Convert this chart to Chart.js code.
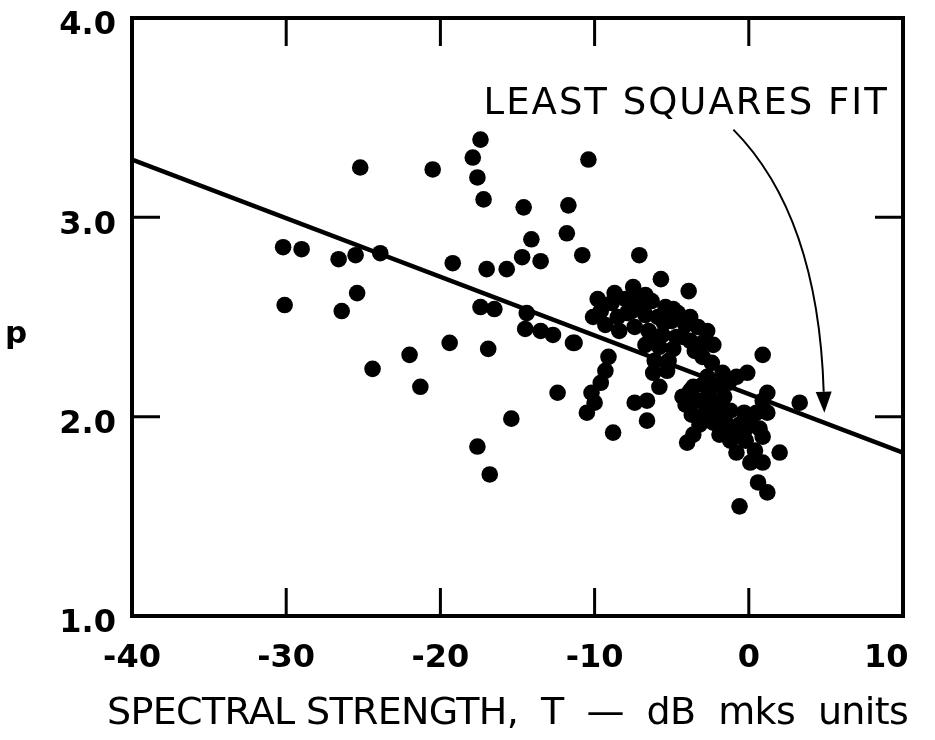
<!DOCTYPE html>
<html><head><meta charset="utf-8">
<script src="https://cdn.jsdelivr.net/npm/chart.js@4.4.1/dist/chart.umd.min.js"></script>
<style>html,body{margin:0;padding:0;background:#fff;}#c{display:block;}</style>
</head><body>
<canvas id="c" width="935" height="740"></canvas>
<script>
// Spectral strength T (dB mks units) of each observation
const spectralT = [
  -30.2,-29.0,-30.1,-26.6,-25.5,-23.9,-25.4,-26.4,-25.2,-20.5,
  -24.4,-22.0,-21.3,-19.4,-19.2,-16.9,-17.6,-16.8,-15.4,-17.4,
  -17.9,-17.6,-17.2,-14.6,-11.7,-10.4,-11.8,-10.8,-14.1,-14.7,
  -13.5,-15.7,-17.0,-17.4,-16.5,-14.4,-14.5,-13.5,-12.7,-11.4,
  -12.4,-9.8,-7.1,-5.7,-3.9,-8.7,-7.5,-6.7,-4.9,-3.8,
  -2.7,-2.3,0.9,-10.1,-11.3,-9.1,-9.3,-9.6,-10.2,-10.0,
  -10.5,-8.8,-7.4,-6.6,-5.8,-6.6,-4.3,-3.6,-2.7,-1.7,
  -0.8,-0.1,1.2,3.3,-4.0,-3.6,-1.7,-1.2,-0.8,0.1,
  0.9,0.9,2.0,0.6,1.2,-0.6,-6.2,-5.3,
  -9.6,-8.9,-8.0,-7.2,-6.3,-5.4,-4.6,-9.3,-8.5,-7.6,
  -6.7,-5.9,-5.0,-4.1,-3.3,-8.4,-7.4,-6.5,-5.6,-4.7,
  -3.8,-3.0,-6.7,-5.8,-4.9,-3.0,-2.4,-6.1,-5.2,
  -7.9,-6.9,-5.5,-4.3,-6.3,-3.5,
  -3.8,-3.0,-2.1,-1.3,-4.1,-3.3,-2.5,-1.6,0.9,-3.7,
  -2.8,-2.0,-1.2,-0.3,0.5,1.2,-3.2,-2.3,-1.5,-0.6,
  0.2,-1.0,-0.2,0.4,
  -2.6,-1.8,-2.4,-0.2,-1.9,0.7
];
// p value of each observation
const pValues = [
  2.85,2.84,2.56,2.79,2.81,2.82,2.62,2.53,3.25,3.24,
  2.24,2.31,2.15,2.37,2.77,2.34,1.85,1.71,1.99,3.39,
  3.30,3.20,3.09,3.05,3.06,3.29,2.92,2.81,2.89,2.80,
  2.78,2.74,2.74,2.55,2.54,2.52,2.44,2.43,2.41,2.37,
  2.12,2.59,2.81,2.69,2.63,2.62,2.65,2.61,2.54,2.50,
  2.43,2.36,2.31,2.50,2.37,2.30,2.23,2.17,2.12,2.07,
  2.02,1.92,2.07,2.08,2.15,1.98,2.10,2.15,2.20,2.22,
  2.20,2.22,2.12,2.07,1.87,1.91,1.95,1.88,1.82,1.77,
  1.77,1.90,1.82,1.67,1.62,1.55,2.22,2.23,
  2.53,2.57,2.59,2.60,2.58,2.55,2.52,2.46,2.50,2.53,
  2.51,2.50,2.48,2.46,2.45,2.43,2.45,2.43,2.41,2.40,
  2.38,2.37,2.36,2.35,2.34,2.30,2.27,2.28,2.28,
  2.52,2.55,2.47,2.40,2.40,2.33,
  2.13,2.16,2.16,2.17,2.06,2.08,2.09,2.10,2.08,2.01,
  2.02,2.03,2.03,2.02,2.02,2.02,1.96,1.97,1.97,1.96,
  1.96,1.91,1.88,1.83,
  2.13,2.06,2.05,1.94,1.91,1.94
];
// Least squares fit line end points
const fitT = [-40, 10];
const fitP = [3.29, 1.82];
// Axis ticks
const xTickValues = [-40, -30, -20, -10, 0, 10];
const xTickLabels = ['-40', '-30', '-20', '-10', '0', '10\u00a0\u00a0\u00a0'];
const yTickValues = [1.0, 2.0, 3.0, 4.0];
const yTickLabels = ['1.0', '2.0', '3.0', '4.0'];
const xTitle = 'SPECTRAL STRENGTH,  T  \u2014  dB  mks  units';
const yTitle = 'p';
// Annotation
const fitLabel = 'LEAST SQUARES FIT';
const fitLabelAt = [-17.2, 3.52];
const arrowT = [-1.0, 4.5, 4.9];
const arrowP = [3.44, 3.01, 2.02];

const FONT = 'DejaVu Sans';
Chart.defaults.font.family = FONT;
Chart.defaults.color = '#000';

const framePlugin = {
  id: 'frame',
  afterDatasetsDraw(chart) {
    const {ctx, chartArea: a, scales: {x, y}} = chart;
    ctx.save();
    ctx.strokeStyle = '#000';
    ctx.fillStyle = '#000';
    ctx.lineWidth = 4;
    ctx.strokeRect(a.left, a.top, a.right - a.left, a.bottom - a.top);
    const tl = 28;
    ctx.lineWidth = 3;
    ctx.beginPath();
    xTickValues.slice(1, -1).forEach(v => {
      const px = x.getPixelForValue(v);
      ctx.moveTo(px, a.bottom); ctx.lineTo(px, a.bottom - tl);
      ctx.moveTo(px, a.top); ctx.lineTo(px, a.top + tl);
    });
    yTickValues.slice(1, -1).forEach(v => {
      const py = y.getPixelForValue(v);
      ctx.moveTo(a.left, py); ctx.lineTo(a.left + tl, py);
      ctx.moveTo(a.right, py); ctx.lineTo(a.right - tl, py);
    });
    ctx.stroke();
    // curved arrow
    const p0 = [x.getPixelForValue(arrowT[0]), y.getPixelForValue(arrowP[0])];
    const p1 = [x.getPixelForValue(arrowT[1]), y.getPixelForValue(arrowP[1])];
    const p2 = [x.getPixelForValue(arrowT[2]), y.getPixelForValue(arrowP[2])];
    let dx = p2[0] - p1[0], dy = p2[1] - p1[1];
    const len = Math.hypot(dx, dy); dx /= len; dy /= len;
    const hl = 21, hw = 8;
    const base = [p2[0] - dx * hl, p2[1] - dy * hl];
    ctx.lineWidth = 2;
    ctx.beginPath();
    ctx.moveTo(p0[0], p0[1]);
    ctx.quadraticCurveTo(p1[0], p1[1], base[0], base[1]);
    ctx.stroke();
    ctx.beginPath();
    ctx.moveTo(p2[0], p2[1]);
    ctx.lineTo(base[0] - dy * hw, base[1] + dx * hw);
    ctx.lineTo(base[0] + dy * hw, base[1] - dx * hw);
    ctx.closePath();
    ctx.fill();
    // annotation text
    ctx.font = '37px "' + FONT + '"';
    ctx.textAlign = 'left';
    ctx.textBaseline = 'alphabetic';
    try { ctx.letterSpacing = '2px'; } catch (e) {}
    ctx.fillText(fitLabel, x.getPixelForValue(fitLabelAt[0]), y.getPixelForValue(fitLabelAt[1]));
    // x axis title, stretched to the reference width (107..908 px)
    ctx.font = '38px "' + FONT + '"';
    try { ctx.letterSpacing = '0px'; } catch (e) {}
    const w0 = ctx.measureText(xTitle).width;
    const ls = (801 - w0) / xTitle.length;
    try { ctx.letterSpacing = ls.toFixed(2) + 'px'; } catch (e) {}
    ctx.textAlign = 'left';
    ctx.textBaseline = 'middle';
    ctx.fillText(xTitle, 107, 714);
    try { ctx.letterSpacing = '0px'; } catch (e) {}
    // y title, upright
    ctx.font = 'bold 31px "' + FONT + '"';
    ctx.textAlign = 'center';
    ctx.textBaseline = 'alphabetic';
    ctx.fillText(yTitle, 16, y.getPixelForValue(2.37));
    ctx.restore();
  }
};

new Chart(document.getElementById('c'), {
  type: 'scatter',
  data: {
    datasets: [
      {
        type: 'line',
        data: fitT.map((t, i) => ({x: t, y: fitP[i]})),
        borderColor: '#000',
        borderWidth: 4.5,
        pointRadius: 0,
        fill: false,
        tension: 0
      },
      {
        data: spectralT.map((t, i) => ({x: t, y: pValues[i]})),
        backgroundColor: '#000',
        borderColor: '#000',
        borderWidth: 0,
        pointRadius: 8.3,
        pointHoverRadius: 8.3
      }
    ]
  },
  options: {
    responsive: false,
    animation: false,
    events: [],
    layout: {padding: {left: 0, top: 18, right: 32, bottom: 0}},
    plugins: {legend: {display: false}, tooltip: {enabled: false}},
    scales: {
      x: {
        type: 'linear', min: -40, max: 10,
        afterBuildTicks: s => { s.ticks = xTickValues.map(v => ({value: v})); },
        afterFit: s => { s.height = 124; s.paddingLeft = 0; s.paddingRight = 0; },
        grid: {display: false, drawTicks: false},
        border: {display: false},
        ticks: {
          color: '#000', padding: 23,
          font: {family: FONT, size: 32, weight: 'bold'},
          maxRotation: 0, autoSkip: false,
          callback: (v, i) => xTickLabels[i]
        },
        title: {display: false}
      },
      y: {
        type: 'linear', min: 1, max: 4,
        afterBuildTicks: s => { s.ticks = yTickValues.map(v => ({value: v})); },
        afterFit: s => { s.width = 132; s.paddingTop = 0; s.paddingBottom = 0; },
        grid: {display: false, drawTicks: false},
        border: {display: false},
        ticks: {
          color: '#000', padding: 16, labelOffset: 8,
          font: {family: FONT, size: 32, weight: 'bold'},
          callback: (v, i) => yTickLabels[i]
        }
      }
    }
  },
  plugins: [framePlugin]
});
</script>
</body></html>
